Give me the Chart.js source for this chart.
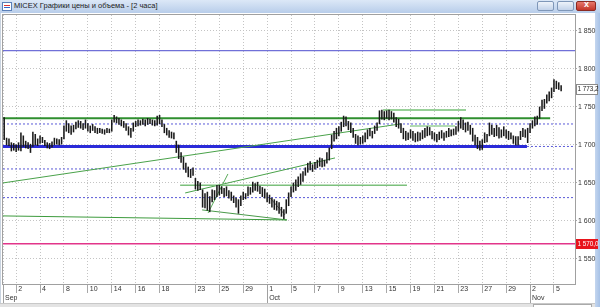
<!DOCTYPE html>
<html><head><meta charset="utf-8">
<script src="https://cdn.jsdelivr.net/npm/chart.js@4"></script>
<style>
html,body{margin:0;padding:0;background:#fff;}
#win{position:relative;width:600px;height:307px;overflow:hidden;background:#fff;}
#c{position:absolute;left:0;top:0;z-index:2;}
#title{position:absolute;left:0;top:0;width:600px;height:13px;background:linear-gradient(#dce8f7,#b8cdea);z-index:3;}
#ttl{position:absolute;left:14px;top:1px;font:7.5px "Liberation Sans",Arial,sans-serif;color:#1b1b1b;white-space:nowrap;}
#ico{position:absolute;left:2px;top:2px;width:8px;height:7px;background:#fff;border:1px solid #5a7fb8;}
#ico i{position:absolute;left:1px;width:6px;height:1px;background:#d33;}
.btn{position:absolute;top:1px;height:8px;border:1px solid #7f97b8;border-radius:2px;background:linear-gradient(#eef3fa,#c3d3ea);}
#cls{background:linear-gradient(#e6786c,#c4362a);border-color:#8b2a22;}
#cls:after{content:"x";position:absolute;left:7px;top:-3px;font:bold 9px "Liberation Sans",sans-serif;color:#fff;}
#strip{position:absolute;left:595px;top:13px;width:5px;height:294px;background:linear-gradient(90deg,#c4d6ef,#a6c1e6);z-index:1;}
#lb{position:absolute;left:0;top:13px;width:1px;height:294px;background:#c9d3df;z-index:1;}
#status{position:absolute;left:0;top:303px;width:595px;height:4px;background:#e3e3e3;border-top:1px solid #c8c8c8;z-index:3;}
#sb{position:absolute;left:533px;top:304px;width:57px;height:4px;background:#fff;border:1px solid #aaa;z-index:4;}
</style></head>
<body><div id="win">
<div id="strip"></div><div id="lb"></div>
<canvas id="c" width="600" height="307"></canvas>
<div id="title"><span id="ico"><i style="top:2px"></i><i style="top:4px;background:#36c"></i></span><span id="ttl">MICEX Графики цены и объема - [2 часа]</span>
<span class="btn" style="left:537px;width:15px"></span><span class="btn" style="left:557px;width:15px"></span><span class="btn" id="cls" style="left:576px;width:18px"></span></div>
<div id="status"></div><div id="sb"></div>
</div>
<script>
// ---- data (2-hour bars, 5 per trading day, Sep 1 .. Nov 5) ----
const highs = [
1736,1709,1708,1703,1702, 1700,1703,1716,1712,1705, 1703,1701,1717,1714,1708, 1712,1710,1706,1703,1702,
1704,1709,1708,1707,1710, 1725,1732,1728,1725,1726, 1730,1732,1731,1728,1733, 1728,1725,1727,1724,1722,
1722,1721,1720,1722,1721, 1733,1739,1737,1735,1733, 1731,1728,1724,1722,1729, 1731,1733,1732,1734,1733,
1735,1734,1733,1732,1738, 1739,1733,1727,1722,1719, 1717,1716,1705,1700,1690, 1684,1676,1671,1668,1670,
1656,1652,1650,1641,1636, 1638,1632,1641,1640,1647, 1647,1645,1643,1645,1640, 1638,1633,1630,1628,1633,
1638,1636,1645,1644,1651, 1649,1651,1646,1644,1642, 1637,1634,1630,1628,1626, 1624,1618,1615,1628,1637,
1645,1650,1654,1658,1662, 1665,1670,1676,1678,1674, 1677,1680,1683,1682,1680, 1690,1696,1713,1718,1722,
1724,1730,1738,1737,1731, 1729,1722,1714,1712,1710, 1712,1716,1720,1722,1718, 1725,1729,1745,1746,1744,
1745,1746,1744,1742,1736, 1734,1728,1722,1718,1716, 1720,1718,1715,1717,1716, 1719,1722,1724,1723,1718,
1716,1714,1717,1719,1716, 1718,1722,1720,1721,1724, 1731,1736,1733,1729,1730, 1726,1722,1713,1710,1705,
1707,1716,1714,1729,1726, 1722,1726,1723,1720,1724, 1720,1718,1716,1712,1711, 1711,1718,1722,1720,1722,
1728,1732,1737,1738,1750, 1759,1760,1766,1770,1775, 1786,1784,1782,1778];
const lows = [
1707,1700,1699,1692,1693, 1691,1693,1692,1698,1696, 1695,1690,1698,1700,1699, 1702,1703,1699,1696,1695,
1697,1700,1701,1700,1701, 1708,1718,1716,1714,1717, 1721,1723,1722,1720,1722, 1718,1716,1719,1716,1715,
1716,1715,1714,1716,1716, 1718,1730,1729,1727,1725, 1723,1719,1713,1710,1718, 1724,1725,1726,1727,1725,
1727,1728,1726,1725,1726, 1728,1724,1716,1713,1710, 1709,1708,1690,1682,1677, 1668,1664,1658,1657,1660,
1642,1640,1641,1618,1617, 1614,1612,1625,1628,1632, 1634,1636,1632,1633,1630, 1627,1624,1618,1610,1620,
1628,1629,1633,1635,1638, 1640,1639,1636,1632,1630, 1625,1623,1618,1615,1614, 1610,1606,1603,1610,1620,
1632,1638,1640,1645,1648, 1652,1660,1664,1667,1665, 1668,1670,1672,1671,1672, 1676,1680,1695,1705,1708,
1712,1718,1724,1725,1720, 1716,1710,1702,1700,1701, 1702,1704,1708,1712,1709, 1715,1719,1728,1734,1733,
1735,1733,1734,1730,1724, 1722,1716,1708,1706,1707, 1709,1706,1704,1705,1706, 1708,1710,1712,1713,1708,
1706,1704,1707,1709,1706, 1710,1711,1712,1713,1714, 1718,1722,1720,1717,1719, 1714,1705,1700,1695,1693,
1694,1703,1704,1712,1714, 1711,1712,1709,1710,1712, 1709,1707,1708,1702,1700, 1700,1707,1711,1710,1703,
1716,1722,1725,1727,1735, 1745,1748,1755,1758,1762, 1770,1774,1773,1771];
const barsPerDay = 5;
// day index of each date label on the time axis (0 = Sep 1)
const tickDays   = [0, 1, 3, 5, 7, 9, 11, 13, 16, 18, 20, 22, 24, 26, 28, 30, 32, 34, 36, 38, 40, 42, 44, 46];
const tickLabels = ['', '2','4','8','10','14','16','18','23','25','29','1','5','7','9','13','15','19','21','23','27','29','2','5'];
const monthDays  = [0, 22, 44];
const monthNames = ['Sep', 'Oct', 'Nov'];
const priceTicks = [1550, 1600, 1650, 1700, 1750, 1800, 1850];
const lastPrice = 1773.2;
const alertPrice = 1570.0;
// drawn lines: [fromBar, fromPrice, toBar, toPrice]
const trendLines = [
  [-0.5, 1735, 228.4, 1735],
  [158.5, 1746, 193.2, 1746],
  [73.6, 1647, 168.5, 1647],
  [-0.5, 1606.6, 118.3, 1601.3],
  [-0.5, 1650, 165.6, 1727.6],
  [75.7, 1636.8, 138.4, 1682.9],
  [85.3, 1610.5, 93.6, 1661.8],
  [82.8, 1614.5, 118.3, 1601.3],
  [111.2, 1630.3, 117.5, 1607.9],
  [169.8, 1725, 188.6, 1725],
  [-0.5, 1698, 218.7, 1698],
  [218.7, 1698, 238.8, 1698]
];
// full-width horizontal levels
const levels = [1824, 1727.6, 1668.4, 1630.7, 1570];

// ---- styles ----
const trendStyles = [
  {c:'#2f8f2f', w:2}, {c:'#98d098', w:2}, {c:'#7cc07c', w:1.5}, {c:'#3d9b3d', w:1},
  {c:'#4aa24a', w:1}, {c:'#4aa24a', w:1}, {c:'#5aaa5a', w:1}, {c:'#4a9a4a', w:1},
  {c:'#707070', w:1}, {c:'#98d098', w:1.5}, {c:'#2b2bd9', w:3}, {c:'#5a5ad8', w:1, d:[2,2]}
];
const levelStyles = [
  {c:'#7070d8', w:1.2}, {c:'#5a5ad8', w:1, d:[2,2]}, {c:'#5a5ad8', w:1, d:[2,2]},
  {c:'#5a5ad8', w:1, d:[2,2]}, {c:'#e2358a', w:1.5}
];

const xMin = -0.5, xMax = 238.8, yMin = 1517, yMax = 1871;
const fmt = (v, dec) => (dec ? v.toFixed(1).replace('.', ',') : String(v)).replace(/\B(?=(\d{3})+(?!\d))/g, ' ');

const tickVals = tickDays.map(d => d === 0 ? xMin : d * barsPerDay);
const labelFor = {};
tickDays.forEach((d, k) => {
  const m = monthDays.indexOf(d);
  labelFor[tickVals[k]] = m >= 0 ? [tickLabels[k], monthNames[m]] : tickLabels[k];
});

const datasets = [];
trendLines.forEach((t, k) => {
  const s = trendStyles[k];
  datasets.push({type:'line', data:[{x:t[0], y:t[1]}, {x:t[2], y:t[3]}], borderColor:s.c, borderWidth:s.w,
    borderDash:s.d || [], pointRadius:0, fill:false, order:2});
});
levels.forEach((p, k) => {
  const s = levelStyles[k];
  datasets.push({type:'line', data:[{x:xMin, y:p}, {x:xMax, y:p}], borderColor:s.c, borderWidth:s.w,
    borderDash:s.d || [], pointRadius:0, fill:false, order:3});
});
datasets.push({type:'bar', data: highs.map((h, i) => ({x:i, y:[lows[i], h]})),
  backgroundColor:'#1a1a1a', borderWidth:0, barThickness:0.9, order:1});

const extras = {
  id:'extras',
  afterDraw(chart) {
    const {ctx, chartArea:a, scales:{x, y}} = chart;
    ctx.save();
    ctx.strokeStyle = '#a0a0a0'; ctx.lineWidth = 1;
    ctx.strokeRect(a.left - 0.5, a.top - 0.5, a.right - a.left + 1, a.bottom - a.top + 1);
    // month separators
    monthDays.forEach(d => {
      const px = Math.round(x.getPixelForValue(d === 0 ? xMin : d * barsPerDay)) + 0.5;
      ctx.beginPath(); ctx.moveTo(px, a.bottom); ctx.lineTo(px, a.bottom + 19); ctx.stroke();
    });
    ctx.font = '6.3px "Liberation Sans", Arial, sans-serif';
    ctx.textBaseline = 'middle'; ctx.textAlign = 'left';
    // last price box
    let py = Math.round(y.getPixelForValue(lastPrice));
    ctx.fillStyle = '#fff'; ctx.fillRect(576, py - 5, 22, 10);
    ctx.strokeStyle = '#8a8a8a'; ctx.strokeRect(576.5, py - 4.5, 21, 10);
    ctx.fillStyle = '#222'; ctx.fillText(fmt(lastPrice, true), 577.5, py + 0.5);
    // alert box
    py = Math.round(y.getPixelForValue(alertPrice));
    ctx.fillStyle = '#e8141c'; ctx.fillRect(576, py - 5, 22, 10);
    ctx.fillStyle = '#fff'; ctx.fillText(fmt(alertPrice, true), 577.5, py + 0.5);
    ctx.restore();
  }
};

Chart.defaults.font.family = '"Liberation Sans", Arial, sans-serif';
new Chart(document.getElementById('c'), {
  type:'bar',
  data:{datasets},
  plugins:[extras],
  options:{
    responsive:false, animation:false, events:[],
    layout:{padding:{left:3, top:15, right:0, bottom:0}},
    plugins:{legend:{display:false}, tooltip:{enabled:false}},
    scales:{
      x:{type:'linear', min:xMin, max:xMax, offset:false,
        afterBuildTicks: s => { s.ticks = tickVals.map(v => ({value:v})); },
        afterFit: s => { s.height = 23; },
        grid:{color:'#c4c4c4', offset:false, tickLength:9, tickColor:'#a8a8a8'},
        border:{color:'#a0a0a0', dash:[1,2]},
        ticks:{autoSkip:false, maxRotation:0, align:'start', labelOffset:2, padding:-9, color:'#333',
          font:{size:7, lineHeight:1.35}, callback: v => labelFor[v] !== undefined ? labelFor[v] : ''}},
      y:{type:'linear', position:'right', min:yMin, max:yMax,
        afterBuildTicks: s => { s.ticks = priceTicks.map(v => ({value:v})); },
        afterFit: s => { s.width = 25; },
        grid:{color:'#c4c4c4', tickLength:2, tickColor:'#a8a8a8'},
        border:{color:'#a0a0a0', dash:[1,2]},
        ticks:{padding:1, color:'#333', font:{size:7}, callback: v => fmt(v)}}
    }
  }
});
</script>
</body></html>
